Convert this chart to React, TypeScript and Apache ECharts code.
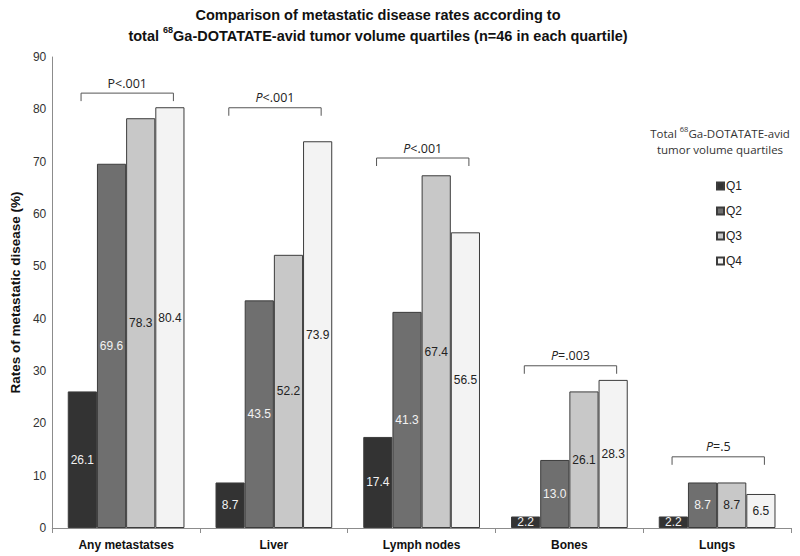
import React, { useEffect, useRef } from "react";
import * as echarts from "echarts";

const categories = ["Any metastatses", "Liver", "Lymph nodes", "Bones", "Lungs"];
const seriesNames = ["Q1", "Q2", "Q3", "Q4"];
const q1 = [26.1, 8.7, 17.4, 2.2, 2.2];
const q2 = [69.6, 43.5, 41.3, 13.0, 8.7];
const q3 = [78.3, 52.2, 67.4, 26.1, 8.7];
const q4 = [80.4, 73.9, 56.5, 28.3, 6.5];
const seriesValues = [q1, q2, q3, q4];
const yTicks = { min: 0, max: 90, interval: 10 };

// p-value brackets: category index, bracket level (in % units), label
const bracketCategory = [0, 1, 2, 3, 4];
const bracketLevel = [83.1, 80.3, 70.7, 31.0, 13.6];
const bracketPrefix = ["P", "P", "P", "P", "P"];
const bracketRest = ["<.001", "<.001", "<.001", "=.003", "=.5"];
const bracketItalic = [false, true, true, true, true];

const barColors = ["#333333", "#6f6f6f", "#c8c8c8", "#f3f3f3"];
const labelColors = ["#f2f2f2", "#f2f2f2", "#222222", "#222222"];

export default function App() {
  const ref = useRef<HTMLDivElement>(null);
  useEffect(() => {
    if (!ref.current) return;
    const chart = echarts.init(ref.current, undefined, { renderer: "svg" });

    const barSeries = seriesNames.map((name, i) => ({
      name,
      type: "bar",
      data: seriesValues[i],
      barGap: "0%",
      barCategoryGap: "21%",
      itemStyle: { color: barColors[i], borderColor: "#3c3c3c", borderWidth: 1 },
      label: {
        show: true,
        position: "inside",
        fontFamily: "Liberation Sans, Arial, sans-serif",
        fontSize: 12,
        color: labelColors[i],
        formatter: (p: any) => Number(p.value).toFixed(1),
      },
    }));

    const bracketData = bracketCategory.map((c, i) => [c, bracketLevel[i], i]);

    const bracketSeries = {
      type: "custom",
      name: "brackets",
      silent: true,
      data: bracketData,
      z: 5,
      renderItem: (params: any, api: any) => {
        const c = api.value(0);
        const lv = api.value(1);
        const idx = api.value(2);
        const pt = api.coord([c, lv]);
        const bw = api.size([1, 0])[0];
        const x1 = pt[0] - bw * 0.305;
        const x2 = pt[0] + bw * 0.32;
        const y = pt[1];
        const italic = bracketItalic[idx];
        return {
          type: "group",
          children: [
            {
              type: "polyline",
              shape: { points: [[x1, y + 8], [x1, y], [x2, y], [x2, y + 8]] },
              style: { stroke: "#555555", lineWidth: 1, fill: null },
            },
            {
              type: "text",
              x: (x1 + x2) / 2,
              y: y - 10,
              style: {
                text: `{p|${bracketPrefix[idx]}}{r|${bracketRest[idx]}}`,
                align: "center",
                verticalAlign: "middle",
                rich: {
                  p: {
                    fontFamily: "Open Sans, Lato, sans-serif",
                    fontSize: 12.5,
                    fontStyle: italic ? "italic" : "normal",
                    fill: "#222",
                  },
                  r: { fontFamily: "Open Sans, Lato, sans-serif", fontSize: 12.5, fill: "#222" },
                },
              },
            },
          ],
        };
      },
    };

    chart.setOption({
      animation: false,
      backgroundColor: "#ffffff",
      title: {
        left: 373,
        top: -1,
        textAlign: "center",
        text:
          "{b|Comparison of metastatic disease rates according to}\n{b|total }{s|68}{b|Ga-DOTATATE-avid tumor volume quartiles (n=46 in each quartile)}",
        textStyle: {
          align: "center",
          rich: {
            b: {
              fontFamily: "Liberation Sans, Arial, sans-serif",
              fontWeight: "bold",
              fontSize: 14.5,
              color: "#111",
              lineHeight: 21,
            },
            s: {
              fontFamily: "Liberation Sans, Arial, sans-serif",
              fontWeight: "bold",
              fontSize: 9,
              color: "#111",
              lineHeight: 21,
              verticalAlign: "top",
              padding: [0, 0, 5, 0],
            },
          },
        },
      },
      legend: {
        orient: "vertical",
        left: 711,
        top: 175,
        itemWidth: 7,
        itemHeight: 7,
        itemGap: 13,
        icon: "rect",
        data: seriesNames,
        textStyle: {
          fontFamily: "Liberation Sans, Arial, sans-serif",
          fontSize: 12,
          color: "#222",
          padding: [0, 0, 0, -3],
        },
      },
      graphic: [
        {
          type: "text",
          x: 720,
          y: 125,
          style: {
            text: "{t|Total }{s|68}{t|Ga-DOTATATE-avid}\n{t|tumor volume quartiles}",
            align: "center",
            verticalAlign: "top",
            rich: {
              t: { fontFamily: "Open Sans, Lato, sans-serif", fontSize: 11.5, fill: "#333", lineHeight: 16, align: "center" },
              s: {
                fontFamily: "Open Sans, Lato, sans-serif",
                fontSize: 7.5,
                fill: "#333",
                lineHeight: 16,
                verticalAlign: "top",
                padding: [0, 0, 4, 0],
                align: "center",
              },
            },
          },
        },
      ],
      grid: { left: 46, right: 9, top: 57, bottom: 28, containLabel: false },
      xAxis: {
        type: "category",
        data: categories,
        axisLine: { lineStyle: { color: "#8c8c8c" } },
        axisTick: { show: true, length: 5, lineStyle: { color: "#8c8c8c" } },
        axisLabel: {
          fontFamily: "Liberation Sans, Arial, sans-serif",
          fontWeight: "bold",
          fontSize: 12,
          color: "#111",
          margin: 11,
        },
      },
      yAxis: {
        type: "value",
        min: yTicks.min,
        max: yTicks.max,
        interval: yTicks.interval,
        name: "Rates of metastatic disease (%)",
        nameLocation: "middle",
        nameGap: 27,
        nameTextStyle: {
          fontFamily: "Liberation Sans, Arial, sans-serif",
          fontWeight: "bold",
          fontSize: 13.5,
          color: "#111",
        },
        axisLine: { show: true, lineStyle: { color: "#8c8c8c" } },
        axisTick: { show: false },
        splitLine: { show: false },
        axisLabel: {
          fontFamily: "Liberation Sans, Arial, sans-serif",
          fontSize: 12,
          color: "#333",
          margin: 6,
        },
      },
      series: [...barSeries, bracketSeries],
    });
    return () => chart.dispose();
  }, []);
  return (
    <div
      ref={ref}
      style={{ position: "fixed", left: 0, top: 0, width: 800, height: 556 }}
    />
  );
}
